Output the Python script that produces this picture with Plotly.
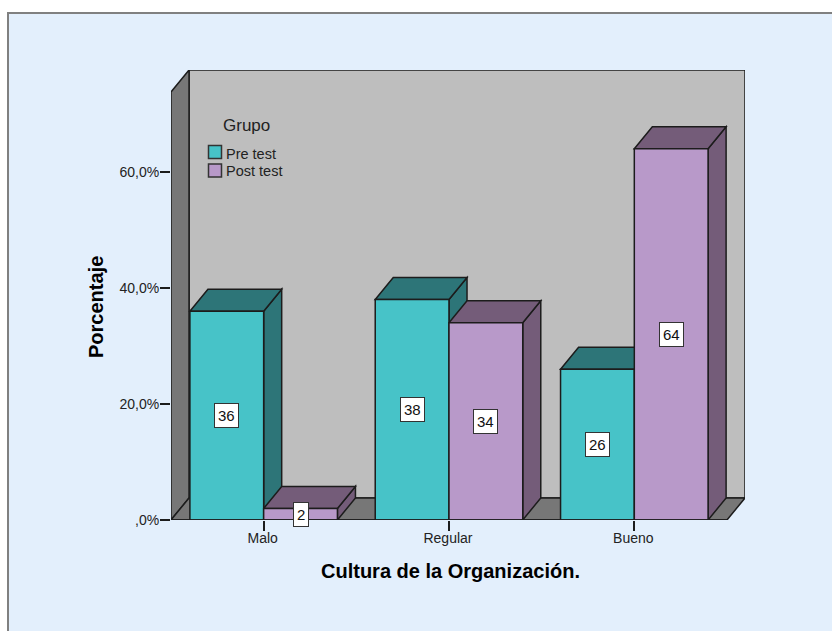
import plotly.graph_objects as go

categories = ["Malo", "Regular", "Bueno"]
pre_test = [36, 38, 26]
post_test = [2, 34, 64]
y_ticks = [0, 20, 40, 60]
y_tick_labels = [",0%", "20,0%", "40,0%", "60,0%"]

PRE_FRONT = "#47C3C8"
PRE_DARK = "#2D7578"
POST_FRONT = "#B899C9"
POST_DARK = "#745C79"
WALL = "#BEBEBE"
WALL_DARK = "#777777"
EDGE = "#1c1c1c"
BG = "#E3EFFC"
FONT = "Liberation Sans"

WIDTH, HEIGHT = 832, 631
LEFT, RIGHT, TOP, BOTTOM = 171, 745, 70, 520

BAR_W = 0.398
Y_SCALE = 5.8
DEPTH_X = 18 / 185
DEPTH_Y = 22 / Y_SCALE
X_MIN, X_MAX = -0.5, 2.5 + DEPTH_X
Y_MAX = (BOTTOM - TOP) / Y_SCALE


def paper_x(px):
    return (px - LEFT) / (RIGHT - LEFT)


def paper_y(py):
    return (BOTTOM - py) / (BOTTOM - TOP)


def polygon(points, fill, width=1.5):
    path = "M" + " L".join(f"{x},{y}" for x, y in points) + " Z"
    return dict(type="path", path=path, xref="x", yref="y", fillcolor=fill,
                line=dict(color=EDGE, width=width), layer="below")


def box_shapes(x0, x1, value, dark):
    # side first, then the top lying over it
    side = [(x1, 0), (x1 + DEPTH_X, DEPTH_Y), (x1 + DEPTH_X, value + DEPTH_Y), (x1, value)]
    top = [(x0, value), (x0 + DEPTH_X, value + DEPTH_Y), (x1 + DEPTH_X, value + DEPTH_Y), (x1, value)]
    return [polygon(side, dark), polygon(top, dark)]


def paper_text(text, px, py, size, color="#222222", xanchor="left", angle=0):
    return dict(x=paper_x(px), y=paper_y(py), xref="paper", yref="paper", text=text, showarrow=False,
                xanchor=xanchor, yanchor="middle", textangle=angle, borderpad=0,
                font=dict(family=FONT, size=size, color=color))


shapes = [
    dict(type="rect", xref="paper", yref="paper", x0=paper_x(8), x1=paper_x(WIDTH + 10),
         y0=paper_y(HEIGHT + 10), y1=paper_y(13), fillcolor=BG,
         line=dict(color="#808080", width=2), layer="below"),
    polygon([(X_MIN + DEPTH_X, DEPTH_Y), (X_MAX, DEPTH_Y), (X_MAX, Y_MAX), (X_MIN + DEPTH_X, Y_MAX)], WALL),
    polygon([(X_MIN, 0), (X_MIN + DEPTH_X, DEPTH_Y), (X_MIN + DEPTH_X, Y_MAX), (X_MIN, Y_MAX - DEPTH_Y)], WALL_DARK),
    polygon([(X_MIN, 0), (X_MIN + DEPTH_X, DEPTH_Y), (X_MAX, DEPTH_Y), (X_MAX - DEPTH_X, 0)], WALL_DARK),
]

annotations = []
for i in range(len(categories)):
    shapes += box_shapes(i - BAR_W, i, pre_test[i], PRE_DARK)
    shapes += box_shapes(i, i + BAR_W, post_test[i], POST_DARK)
    for xc, value in ((i - BAR_W / 2, pre_test[i]), (i + BAR_W / 2, post_test[i])):
        annotations.append(dict(x=xc, y=value / 2, xref="x", yref="y", text=str(value), showarrow=False,
                                font=dict(family=FONT, size=15, color="#111111"), bgcolor="white",
                                bordercolor="#333333", borderwidth=1, borderpad=3))

# baseline along the front of the floor
shapes.append(dict(type="line", xref="x", yref="y", x0=X_MIN, x1=X_MAX - DEPTH_X, y0=0, y1=0,
                   line=dict(color=EDGE, width=1.5)))

# legend
annotations.append(paper_text("Grupo", 222, 125, 17))
legend_items = [("Pre test", PRE_FRONT, 152, 154), ("Post test", POST_FRONT, 170.5, 171)]
for label, color, swatch_y, text_y in legend_items:
    shapes.append(dict(type="rect", xref="paper", yref="paper", x0=paper_x(208.5), x1=paper_x(221.5),
                       y0=paper_y(swatch_y + 6.5), y1=paper_y(swatch_y - 6.5), fillcolor=color,
                       line=dict(color="#333333", width=1.5)))
    annotations.append(paper_text(label, 225, text_y, 14.5))

# axis titles, centred on the front of the box
annotations.append(paper_text("<b>Cultura de la Organización.</b>", 450, 571, 20, "black", "center"))
annotations.append(paper_text("<b>Porcentaje</b>", 96, 307, 20, "black", "center", -90))

fig = go.Figure()
fig.add_trace(go.Bar(x=[i - BAR_W / 2 for i in range(len(categories))], y=pre_test, width=BAR_W,
                     name="Pre test", marker=dict(color=PRE_FRONT, line=dict(color=EDGE, width=1.5)),
                     cliponaxis=False))
fig.add_trace(go.Bar(x=[i + BAR_W / 2 for i in range(len(categories))], y=post_test, width=BAR_W,
                     name="Post test", marker=dict(color=POST_FRONT, line=dict(color=EDGE, width=1.5)),
                     cliponaxis=False))

fig.update_layout(
    width=WIDTH,
    height=HEIGHT,
    autosize=False,
    margin=dict(l=LEFT, r=WIDTH - RIGHT, t=TOP, b=HEIGHT - BOTTOM),
    paper_bgcolor="white",
    plot_bgcolor="rgba(0,0,0,0)",
    barmode="overlay",
    showlegend=False,
    shapes=shapes,
    annotations=annotations,
    font=dict(family=FONT, size=14, color="#222222"),
)
fig.update_xaxes(
    range=[X_MIN, X_MAX],
    tickvals=list(range(len(categories))),
    ticktext=categories,
    ticks="outside",
    ticklen=10,
    tickwidth=1.5,
    tickcolor=EDGE,
    ticklabelstandoff=-5,
    ticklabelshift=-1,
    showgrid=False,
    zeroline=False,
)
fig.update_yaxes(
    range=[0, Y_MAX],
    tickvals=y_ticks,
    ticktext=y_tick_labels,
    ticks="outside",
    ticklen=10,
    tickwidth=1.5,
    tickcolor=EDGE,
    ticklabelstandoff=-2,
    showgrid=False,
    zeroline=False,
)

fig.write_html("out.html", config=dict(displayModeBar=False),
               post_script="document.body.style.margin='0';document.body.style.overflow='hidden';")
